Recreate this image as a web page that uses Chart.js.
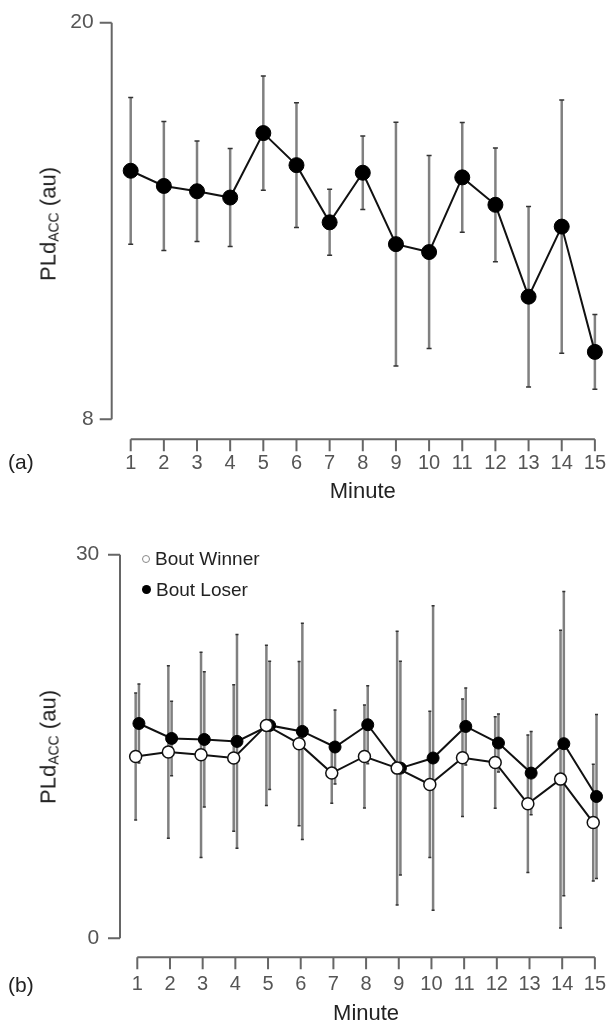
<!DOCTYPE html>
<html>
<head>
<meta charset="utf-8">
<script src="https://cdn.jsdelivr.net/npm/chart.js@4.4.1/dist/chart.umd.min.js"></script>
<style>
  body { margin: 0; background: #fff; width: 608px; height: 1030px; position: relative; overflow: hidden;
         font-family: "Liberation Sans", Arial, sans-serif; }
  .wrap { position: absolute; left: 0; width: 608px; }
  #wrapA { top: 0; height: 515px; }
  #wrapB { top: 530px; height: 500px; }
  .ytitle { position: absolute; font-size: 22px; color: #222; white-space: nowrap; line-height: 26px;
            transform: translate(-50%, -50%) rotate(-90deg); }
  .ytitle sub { font-size: 14px; vertical-align: -3px; }
  .tag { position: absolute; left: 8px; font-size: 21px; line-height: 24px; color: #222; }
  .legend { position: absolute; left: 142px; font-size: 19px; color: #222; line-height: 22px; }
  .legend div { position: absolute; left: 0; white-space: nowrap; }
  .legend i { display: inline-block; width: 8px; height: 8px; border-radius: 50%; margin-right: 5px;
              vertical-align: 2px; box-sizing: border-box; }
  .legend .open { border: 1.5px solid #888; background: #fff; }
  .legend .full { background: #000; width: 9px; height: 9px; }
</style>
</head>
<body>
<div class="wrap" id="wrapA"><canvas id="chartA"></canvas></div>
<div class="wrap" id="wrapB"><canvas id="chartB"></canvas></div>

<div class="ytitle" style="left:51px; top:224px;">PLd<sub>ACC</sub> (au)</div>
<div class="ytitle" style="left:51px; top:747px;">PLd<sub>ACC</sub> (au)</div>
<div class="tag" style="top:450px;">(a)</div>
<div class="tag" style="top:973px;">(b)</div>
<div class="legend" style="top:548px;">
  <div style="top:0;"><i class="open"></i>Bout Winner</div>
  <div style="top:31px;"><i class="full"></i>Bout Loser</div>
</div>

<script>
// minutes of the bout
const minutes = [1, 2, 3, 4, 5, 6, 7, 8, 9, 10, 11, 12, 13, 14, 15];

// panel (a): all bouts, mean and SD
const meanA = [15.52, 15.06, 14.90, 14.71, 16.66, 15.69, 13.96, 15.46, 13.30, 13.06, 15.32, 14.49, 11.71, 13.83, 10.04];
const sdA   = [2.22, 1.95, 1.52, 1.48, 1.73, 1.89, 1.00, 1.11, 3.69, 2.92, 1.66, 1.72, 2.73, 3.83, 1.13];
const yTicksA = [8, 20];

// panel (b): winners vs losers, mean and SD
const winMeanB  = [14.22, 14.57, 14.35, 14.10, 16.65, 15.22, 12.92, 14.22, 13.31, 12.03, 14.12, 13.75, 10.52, 12.45, 9.05];
const winSdB    = [4.96, 6.75, 8.03, 5.72, 6.26, 6.42, 2.35, 4.02, 10.70, 5.72, 4.60, 3.58, 5.38, 11.65, 4.57];
const loseMeanB = [16.80, 15.63, 15.55, 15.40, 16.65, 16.18, 14.96, 16.70, 13.31, 14.10, 16.57, 15.27, 12.92, 15.22, 11.09];
const loseSdB   = [3.09, 2.91, 5.29, 8.36, 5.01, 8.46, 2.90, 3.05, 8.36, 11.90, 3.01, 2.27, 3.26, 11.90, 6.42];
const yTicksB = [0, 30];

const FONT = '"Liberation Sans", Arial, sans-serif';
const NONE = 'rgba(0,0,0,0)';

// error bars (mean +/- sd) drawn under the lines
const errorBars = {
  id: 'errorBars',
  beforeDatasetsDraw(chart, args, opts) {
    const ctx = chart.ctx, y = chart.scales.y;
    chart.data.datasets.forEach((ds, di) => {
      const meta = chart.getDatasetMeta(di);
      meta.data.forEach((pt, i) => {
        const v = ds.data[i].y, e = ds.errors[i];
        const top = y.getPixelForValue(v + e), bot = y.getPixelForValue(v - e);
        ctx.save();
        ctx.strokeStyle = opts.color;
        ctx.lineWidth = opts.width;
        ctx.beginPath();
        ctx.moveTo(pt.x, top);
        ctx.lineTo(pt.x, bot);
        ctx.stroke();
        ctx.strokeStyle = '#333';
        ctx.lineWidth = 1.5;
        ctx.beginPath();
        ctx.moveTo(pt.x - opts.cap, top); ctx.lineTo(pt.x + opts.cap, top);
        ctx.moveTo(pt.x - opts.cap, bot); ctx.lineTo(pt.x + opts.cap, bot);
        ctx.stroke();
        ctx.restore();
      });
    });
  }
};

// R style axes, pulled away from the plot region
const rAxes = {
  id: 'rAxes',
  afterDraw(chart, args, opts) {
    const {ctx, chartArea, scales: {x, y}} = chart;
    const ax = chartArea.left - opts.yGap;
    const ay = chartArea.bottom + opts.xGap;
    const tick = 12;
    ctx.save();
    ctx.strokeStyle = '#666';
    ctx.lineWidth = 2;
    ctx.beginPath();
    ctx.moveTo(ax, y.getPixelForValue(y.max));
    ctx.lineTo(ax, y.getPixelForValue(y.min));
    y.ticks.forEach(t => {
      const py = y.getPixelForValue(t.value);
      ctx.moveTo(ax, py);
      ctx.lineTo(ax - tick, py);
    });
    ctx.moveTo(x.getPixelForValue(x.min), ay);
    ctx.lineTo(x.getPixelForValue(x.max), ay);
    x.ticks.forEach(t => {
      const px = x.getPixelForValue(t.value);
      ctx.moveTo(px, ay);
      ctx.lineTo(px, ay + tick);
    });
    ctx.stroke();
    ctx.restore();
  }
};

// invisible tick marks push the labels out without growing the layout padding
function makeOptions(c) {
  return {
    responsive: true,
    maintainAspectRatio: false,
    animation: false,
    layout: { padding: { left: 0, right: c.right, top: c.top, bottom: 0 } },
    plugins: {
      legend: { display: false },
      tooltip: { enabled: false },
      errorBars: { color: '#808080', width: 2.5, cap: c.cap },
      rAxes: { yGap: c.yGap, xGap: c.xGap }
    },
    scales: {
      x: {
        type: 'linear', min: 1, max: 15,
        grid: { display: true, drawOnChartArea: false, drawTicks: true, tickLength: c.xTick, color: NONE },
        border: { display: false },
        ticks: { stepSize: 1, padding: 2, color: '#555', font: { family: FONT, size: 20 } },
        title: { display: true, text: 'Minute', color: '#222', font: { family: FONT, size: 22 },
                 padding: { top: 0, bottom: c.titlePad } },
        afterFit: s => { s.height = c.xHeight; }
      },
      y: {
        min: c.yTicks[0], max: c.yTicks[c.yTicks.length - 1],
        grid: { display: true, drawOnChartArea: false, drawTicks: true, tickLength: c.yTick, color: NONE },
        border: { display: false },
        ticks: { padding: 2, color: '#555', font: { family: FONT, size: 21 } },
        afterBuildTicks: s => { s.ticks = c.yTicks.map(v => ({ value: v })); },
        afterFit: s => { s.width = c.yWidth; }
      }
    }
  };
}

new Chart(document.getElementById('chartA'), {
  type: 'line',
  data: {
    datasets: [{
      data: minutes.map((m, i) => ({ x: m, y: meanA[i] })),
      errors: sdA,
      borderColor: '#111', borderWidth: 2,
      pointBackgroundColor: '#000', pointBorderColor: '#000',
      pointRadius: 7.5, pointBorderWidth: 1,
      clip: false
    }]
  },
  options: makeOptions({ right: 13, top: 22.7, cap: 2.5, yGap: 19, xGap: 20, xTick: 30,
                         titlePad: 10, xHeight: 95.7, yTick: 35, yWidth: 130.7, yTicks: yTicksA }),
  plugins: [errorBars, rAxes]
});

const dodge = 0.05;
new Chart(document.getElementById('chartB'), {
  type: 'line',
  data: {
    datasets: [{
      label: 'Bout Winner',
      data: minutes.map((m, i) => ({ x: m - dodge, y: winMeanB[i] })),
      errors: winSdB,
      borderColor: '#111', borderWidth: 2,
      pointBackgroundColor: '#fff', pointBorderColor: '#111',
      pointRadius: 6, pointBorderWidth: 1.5,
      clip: false
    }, {
      label: 'Bout Loser',
      data: minutes.map((m, i) => ({ x: m + dodge, y: loseMeanB[i] })),
      errors: loseSdB,
      borderColor: '#111', borderWidth: 2,
      pointBackgroundColor: '#000', pointBorderColor: '#000',
      pointRadius: 6, pointBorderWidth: 1,
      clip: false
    }]
  },
  options: makeOptions({ right: 12.5, top: 24.7, cap: 1.5, yGap: 17.3, xGap: 19, xTick: 32,
                         titlePad: 3, xHeight: 91.7, yTick: 36, yWidth: 137.3, yTicks: yTicksB }),
  plugins: [errorBars, rAxes]
});
</script>
</body>
</html>
